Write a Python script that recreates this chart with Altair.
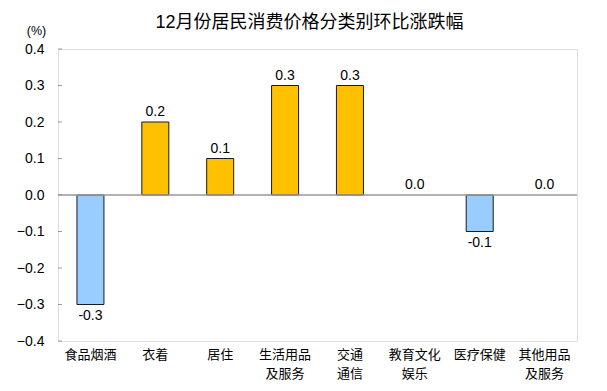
import altair as alt
import pandas as pd

categories = ["食品烟酒", "衣着", "居住", "生活用品|及服务", "交通|通信", "教育文化|娱乐", "医疗保健", "其他用品|及服务"]
values = [-0.3, 0.2, 0.1, 0.3, 0.3, 0.0, -0.1, 0.0]
labels = ["-0.3", "0.2", "0.1", "0.3", "0.3", "0.0", "-0.1", "0.0"]
y_ticks = [-0.4, -0.3, -0.2, -0.1, 0.0, 0.1, 0.2, 0.3, 0.4]

df = pd.DataFrame({"cat": categories, "val": values, "lab": labels})
df["sign"] = ["neg" if v < 0 else "pos" for v in values]

FONT = "Liberation Sans, Noto Sans CJK SC"

x_axis = alt.Axis(labelExpr="split(datum.label, '|')", labelAngle=0, ticks=False,
                  domain=False, labelFontSize=13, labelFont=FONT, labelColor="#000",
                  labelPadding=7, labelLineHeight=19)
x_scale = alt.Scale(paddingInner=0, paddingOuter=0)
y_scale = alt.Scale(domain=[-0.4, 0.4], nice=False)
y_axis = alt.Axis(values=y_ticks, format=".1f", ticks=False, labelOverlap=False,
                  domain=False, grid=False, labelFontSize=14, labelFont=FONT,
                  labelColor="#000", labelPadding=14,
                  titleAngle=0, titleX=-22, titleY=-12, titleAlign="center",
                  titleBaseline="bottom",
                  titleFont=FONT, titleFontWeight="normal", titleFontSize=12.5,
                  titleColor="#000")


def X():
    return alt.X("cat:N", sort=categories, title=None, scale=x_scale, axis=x_axis)


def Y(field):
    return alt.Y(field, scale=y_scale, title="(%)", axis=y_axis)


bars = alt.Chart(df).mark_bar(size=27, stroke="#1a1a1a", strokeWidth=1).encode(
    x=X(),
    y=Y("val:Q"),
    y2=alt.datum(0),
    color=alt.Color("sign:N", scale=alt.Scale(domain=["neg", "pos"], range=["#99CCFF", "#FFC000"]),
                    legend=None),
    strokeOpacity=alt.condition("datum.val == 0", alt.value(0), alt.value(1)),
)

tick_df = pd.DataFrame({"t": y_ticks})
ticks = alt.Chart(tick_df).mark_rule(color="#999", strokeWidth=1).encode(
    y=Y("t:Q"), x=alt.value(0), x2=alt.value(4))

zero = alt.Chart(pd.DataFrame({"z": [0.0]})).mark_rule(color="#999", strokeWidth=1.3).encode(
    y=Y("z:Q"))

pos_text = alt.Chart(df[df["val"] >= 0]).mark_text(baseline="bottom", dy=-3, fontSize=14, font=FONT,
                                                    color="#000").encode(
    x=X(), y=Y("val:Q"), text="lab:N")
neg_text = alt.Chart(df[df["val"] < 0]).mark_text(baseline="top", dy=4, fontSize=14, font=FONT,
                                                   color="#000").encode(
    x=X(), y=Y("val:Q"), text="lab:N")

chart = alt.layer(bars, ticks, zero, pos_text, neg_text).properties(
    width=519, height=292,
    title=alt.TitleParams("12月份居民消费价格分类别环比涨跌幅", font=FONT, fontSize=18,
                          fontWeight="normal", color="#000", anchor="middle", dx=-8, offset=-8),
    autosize=alt.AutoSizeParams(type="none"),
    padding={"left": 50, "top": 41, "right": 22, "bottom": 42},
).configure_view(stroke="#A6A6A6", strokeWidth=1.5).configure(background="white")

chart.save("out.html", embed_options={"renderer": "svg", "actions": False})
